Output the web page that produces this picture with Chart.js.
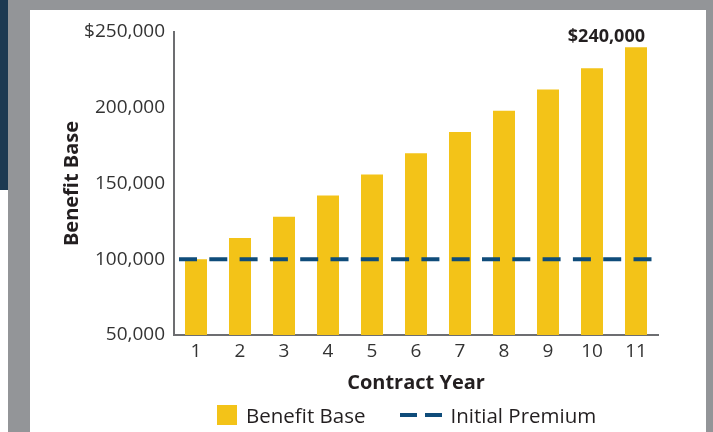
<!DOCTYPE html>
<html>
<head>
<meta charset="utf-8">
<script src="https://cdn.jsdelivr.net/npm/chart.js@4.4.1/dist/chart.umd.min.js"></script>
<style>
  body { margin: 0; width: 713px; height: 432px; overflow: hidden; background: #939598; position: relative; font-family: "Open Sans", sans-serif; }
  .navy { position: absolute; left: 0; top: 0; width: 8px; height: 190px; background: #1d3a52; }
  .strip { position: absolute; left: 0; top: 190px; width: 8px; height: 242px; background: #fff; }
  .panel { position: absolute; left: 30px; top: 10px; width: 676px; height: 422px; background: #fff; }
  .legend { position: absolute; left: 217px; top: 405px; height: 20px; display: flex; align-items: center; font-size: 20.5px; color: #231f20; white-space: nowrap; }
  .swatch { width: 20px; height: 20px; background: #f3c318; margin-right: 9px; }
  .dash { display: flex; margin-left: 35px; margin-right: 8px; }
  .dash i { display: block; width: 17px; height: 4px; background: #0f4c7a; }
  .dash i + i { margin-left: 8px; }
</style>
</head>
<body>
<div class="navy"></div>
<div class="strip"></div>
<div class="panel"><canvas id="benefitChart"></canvas></div>
<div class="legend">
  <span class="swatch"></span><span>Benefit Base</span>
  <span class="dash"><i></i><i></i></span><span>Initial Premium</span>
</div>
<script>
const years = ['1', '2', '3', '4', '5', '6', '7', '8', '9', '10', '11'];
const benefitBase = [100000, 114000, 128000, 142000, 156000, 170000, 184000, 198000, 212000, 226000, 240000];
const initialPremium = 100000;
const yTickLabels = ['50,000', '100,000', '150,000', '200,000', '$250,000'];
const topLabel = '$240,000';

const yellow = '#f3c318';
const navy = '#0f4c7a';
const axisGray = '#6d6e71';
const textColor = '#333333';

// label over the last bar, right aligned near the bar edge
const topLabelPlugin = {
  id: 'topLabel',
  afterDatasetsDraw(chart) {
    const meta = chart.getDatasetMeta(1);
    const bar = meta.data[benefitBase.length - 1];
    if (!bar) return;
    const ctx = chart.ctx;
    ctx.save();
    ctx.font = 'bold 18px "Open Sans"';
    ctx.fillStyle = '#231f20';
    ctx.textAlign = 'right';
    ctx.textBaseline = 'alphabetic';
    ctx.fillText(topLabel, bar.x + bar.width / 2 - 2, bar.y - 5);
    ctx.restore();
  }
};

new Chart(document.getElementById('benefitChart'), {
  data: {
    labels: years,
    datasets: [
      {
        type: 'line',
        label: 'Initial Premium',
        xAxisID: 'x2',
        data: [
          { x: 0.5, y: initialPremium },
          { x: years.length + 0.5, y: initialPremium }
        ],
        borderColor: navy,
        borderWidth: 4,
        borderDash: [18, 12.3],
        borderDashOffset: 25.3,
        pointRadius: 0,
        fill: false,
        order: 0
      },
      {
        type: 'bar',
        label: 'Benefit Base',
        data: benefitBase,
        backgroundColor: yellow,
        grouped: false,
        categoryPercentage: 1,
        barPercentage: 0.5,
        order: 1
      }
    ]
  },
  options: {
    responsive: true,
    maintainAspectRatio: false,
    animation: false,
    layout: { padding: { top: 22, right: 48, left: 30, bottom: 35 } },
    plugins: {
      legend: { display: false },
      tooltip: { enabled: false }
    },
    scales: {
      x: {
        grid: { display: false, drawTicks: false },
        border: { color: axisGray, width: 2 },
        ticks: { color: textColor, font: { family: 'Open Sans', size: 19 }, padding: 5 },
        title: {
          display: true,
          text: 'Contract Year',
          color: '#231f20',
          font: { family: 'Open Sans', size: 20, weight: 'bold' },
          padding: { top: 5, bottom: 2 }
        },
        afterFit: (scale) => { scale.height = 62; }
      },
      x2: {
        type: 'linear',
        display: false,
        min: 0.5,
        max: years.length + 0.5
      },
      y: {
        min: 50000,
        max: 250000,
        grid: { display: false, drawTicks: false },
        border: { color: axisGray, width: 2 },
        ticks: {
          stepSize: 50000,
          color: textColor,
          font: { family: 'Open Sans', size: 19 },
          padding: 9,
          callback: (value, index) => yTickLabels[index]
        },
        title: {
          display: true,
          text: 'Benefit Base',
          color: '#231f20',
          font: { family: 'Open Sans', size: 20, weight: 'bold' },
          padding: 0
        },
        afterFit: (scale) => { scale.width = 114; }
      }
    }
  },
  plugins: [topLabelPlugin]
});
</script>
</body>
</html>
